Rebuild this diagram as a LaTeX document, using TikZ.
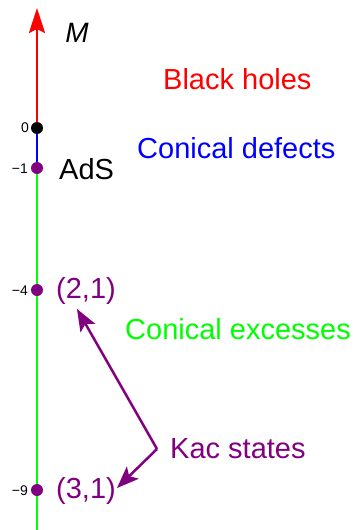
\documentclass[tikz,border=0pt]{standalone}
\usepackage{fontspec}
\setmainfont{Liberation Sans}
\usetikzlibrary{arrows.meta}
\definecolor{kacpurple}{RGB}{128,0,128}
\definecolor{brightgreen}{RGB}{0,255,0}
\begin{document}
\begin{tikzpicture}[x=1pt,y=-1pt,
  axisline/.style={line width=2.7pt},
  dot/.style={circle,inner sep=0pt,minimum size=12pt},
  tick/.style={anchor=east,inner sep=0pt,font=\fontsize{14}{16}\selectfont},
  lbl/.style={inner sep=0pt,font=\fontsize{29}{34}\selectfont},
  kacarrow/.style={kacpurple,line width=2.5pt,-{Stealth[length=22pt,width=17pt,inset=5pt]}}]
  \useasboundingbox (0,0) rectangle (356,530);
  % axis endpoints
  \coordinate (top) at (37,8);
  \coordinate (bot) at (37,530);
  % marked masses
  \node[dot] (p0) at (37,128) {};
  \node[dot] (p1) at (37,168) {};
  \node[dot] (p4) at (37,290) {};
  \node[dot] (p9) at (37,490) {};
  % coloured segments of the mass axis
  \draw[axisline,red,-{Stealth[length=25pt,width=16pt,inset=4pt]}] (p0.center) -- (top);
  \draw[axisline,blue] (p0.center) -- (p1.center);
  \draw[axisline,brightgreen] (p1.center) -- (bot);
  \fill[black] (p0) circle (6pt);
  \fill[kacpurple] (p1) circle (6pt);
  \fill[kacpurple] (p4) circle (6pt);
  \fill[kacpurple] (p9) circle (6pt);
  % tick values
  \node[tick] (t0) at (29,128) {0};
  \node[tick] (t1) at (28,169) {−1};
  \node[tick] (t4) at (28,291) {−4};
  \node[tick] (t9) at (28,491) {−9};
  % axis name
  \node[inner sep=0pt,font=\fontsize{28}{32}\selectfont\itshape] (M) at (77,33) {M};
  % regions
  \node[lbl,red,anchor=west] (bh) at (163,79) {Black holes};
  \node[lbl,blue,anchor=west] (cd) at (137,148) {Conical defects};
  \node[lbl,anchor=west] (ads) at (59,169) {AdS};
  \node[lbl,kacpurple,anchor=west] (s21) at (56,291) {(2,1)};
  \node[lbl,brightgreen,anchor=west] (ce) at (125,329) {Conical excesses};
  \node[lbl,kacpurple,anchor=west] (kac) at (170,449) {Kac states};
  \node[lbl,kacpurple,anchor=west] (s31) at (56,491) {(3,1)};
  % Kac state pointers
  \coordinate (kc) at (157,449);
  \coordinate (h21) at (77,309);
  \coordinate (h31) at (117,488);
  \draw[kacarrow] (kc) -- (h21);
  \draw[kacarrow] (kc) -- (h31);
\end{tikzpicture}
\end{document}
